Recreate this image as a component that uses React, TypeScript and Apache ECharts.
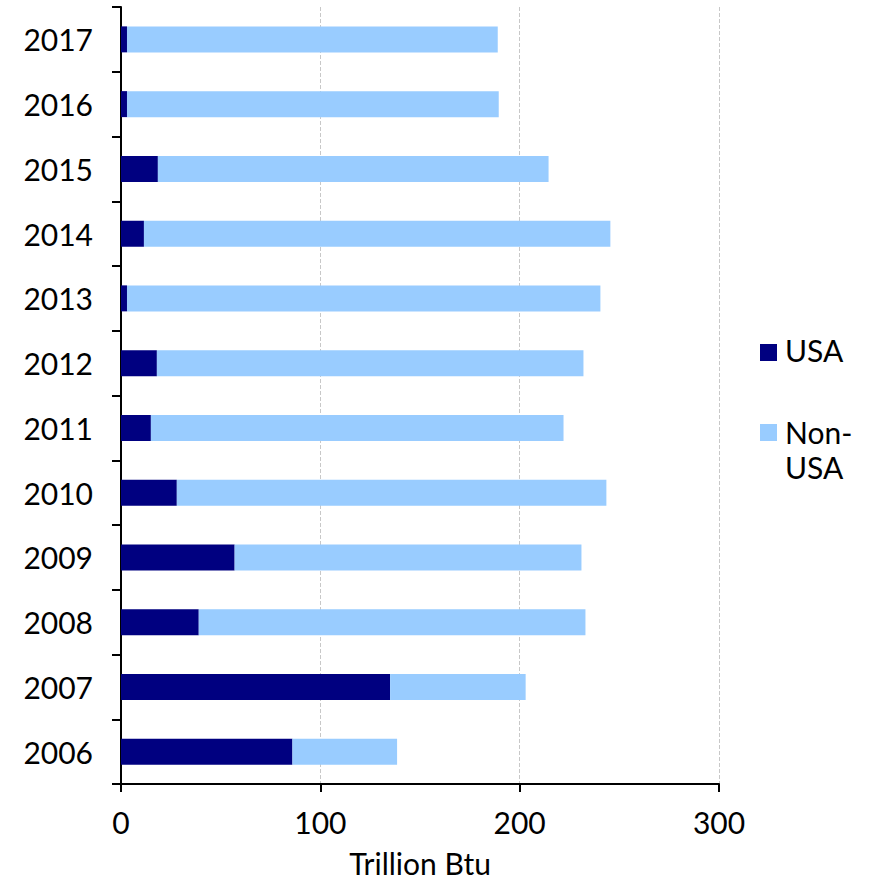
import React, { useEffect, useRef } from "react";
import * as echarts from "echarts";

const years = ["2006", "2007", "2008", "2009", "2010", "2011", "2012", "2013", "2014", "2015", "2016", "2017"];
const usa = [86, 135, 39, 57, 28, 15, 18, 3, 11.5, 18.5, 3, 3];
const nonUsa = [52.5, 68, 194, 174, 215.5, 207, 214, 237.5, 234, 196, 186.5, 186];
const xTicks = [0, 100, 200, 300];
const seriesNames = ["USA", "Non-USA"];
const legendLabels = ["USA", "Non-\nUSA"];
const colors = ["#000080", "#99ccff"];

export default function App() {
  const ref = useRef<HTMLDivElement>(null);
  useEffect(() => {
    if (!ref.current) return;
    const chart = echarts.init(ref.current, undefined, { renderer: "svg" });
    const font = "Lato, 'Noto Sans', sans-serif";
    const fs = 30;
    chart.setOption({
      animation: false,
      textStyle: { fontFamily: font },
      grid: { left: 121, right: 152, top: 7, bottom: 86, containLabel: false },
      legend: { show: false, data: seriesNames },
      graphic: [
        { type: "rect", left: 760, top: 344, shape: { width: 17, height: 17 }, style: { fill: colors[0] } },
        {
          type: "text",
          left: 785,
          top: 332,
          style: { text: legendLabels[0], font: `${fs}px ${font}`, fill: "#000", lineHeight: 35 },
        },
        { type: "rect", left: 760, top: 424, shape: { width: 17, height: 17 }, style: { fill: colors[1] } },
        {
          type: "text",
          left: 785,
          top: 414,
          style: { text: legendLabels[1], font: `${fs}px ${font}`, fill: "#000", lineHeight: 35 },
        },
      ],
      xAxis: {
        type: "value",
        min: xTicks[0],
        max: xTicks[xTicks.length - 1],
        interval: 100,
        name: "Trillion Btu",
        nameLocation: "middle",
        nameGap: 64,
        nameTextStyle: { fontSize: fs, color: "#000", fontFamily: font },
        axisLine: { show: true, lineStyle: { color: "#000", width: 2 } },
        axisTick: { show: true, length: 8, lineStyle: { color: "#000", width: 2 } },
        axisLabel: { fontSize: fs, color: "#000", margin: 23, fontFamily: font },
        splitLine: { show: true, lineStyle: { color: "#c8c8c8", type: "dashed", width: 1 } },
      },
      yAxis: {
        type: "category",
        data: years,
        axisLine: { show: true, lineStyle: { color: "#000", width: 2 } },
        axisTick: { show: true, length: 9, lineStyle: { color: "#000", width: 2 } },
        axisLabel: { fontSize: fs, color: "#000", margin: 28, fontFamily: font },
      },
      series: [
        {
          name: seriesNames[0],
          type: "bar",
          stack: "total",
          data: usa,
          barWidth: 26,
          itemStyle: { color: colors[0] },
        },
        {
          name: seriesNames[1],
          type: "bar",
          stack: "total",
          data: nonUsa,
          barWidth: 26,
          itemStyle: { color: colors[1] },
        },
      ],
    });
    return () => chart.dispose();
  }, []);
  return (
    <div
      ref={ref}
      style={{ position: "fixed", left: 0, top: 0, width: 871, height: 883, background: "#fff" }}
    />
  );
}
